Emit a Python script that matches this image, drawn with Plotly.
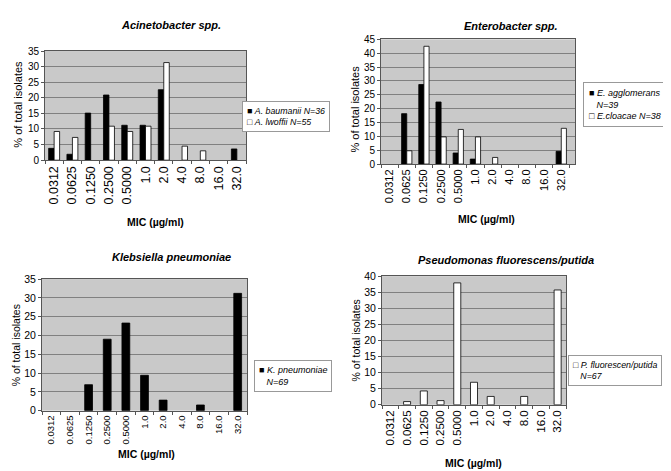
import plotly.graph_objects as go

mic_labels = ["0.0312", "0.0625", "0.1250", "0.2500", "0.5000", "1.0", "2.0", "4.0", "8.0", "16.0", "32.0"]

acineto_baumanii = [3.8, 1.9, 15.1, 20.9, 11.2, 11.2, 22.6, 0, 0, 0, 3.6]
acineto_lwoffii = [9.2, 7.3, 0, 10.9, 9.2, 10.9, 31.3, 4.5, 3.0, 0, 0]

entero_agglomerans = [0, 18.2, 28.7, 22.4, 4.0, 1.8, 0, 0, 0, 0, 4.6]
entero_cloacae = [0, 4.8, 42.5, 9.8, 12.5, 9.8, 2.4, 0, 0, 0, 12.9]

kleb_pneumoniae = [0, 0, 6.9, 19.0, 23.3, 9.4, 2.8, 0, 1.5, 0, 31.2]

pseudo_fluorescens = [0, 1.0, 4.3, 1.3, 37.9, 7.0, 2.6, 0, 2.6, 0, 35.7]

titles = ["Acinetobacter spp.", "Enterobacter spp.", "Klebsiella pneumoniae", "Pseudomonas fluorescens/putida"]

legend_texts = [
    "■ <i>A. baumanii N=36</i><br>□ <i>A. lwoffii N=55</i>",
    "■ <i>E. agglomerans</i><br>\u00a0\u00a0\u00a0<i>N=39</i><br>□ <i>E.cloacae N=38</i>",
    "■ <i>K. pneumoniae</i><br>\u00a0\u00a0\u00a0<i>N=69</i>",
    "□ <i>P. fluorescen/putida</i><br>\u00a0\u00a0\u00a0<i>N=67</i>",
]

W, H = 671, 471
FONT = "Liberation Sans, Arial, sans-serif"


def px_x(p):
    return p / W


def px_y(p):
    return 1 - p / H


def outline(vals):
    return dict(color="black", width=[0.8 if v > 0 else 0 for v in vals])


fig = go.Figure()

fig.add_trace(go.Bar(x=mic_labels, y=acineto_baumanii, name="A. baumanii N=36",
                     marker=dict(color="black", line=outline(acineto_baumanii)), xaxis="x", yaxis="y"))
fig.add_trace(go.Bar(x=mic_labels, y=acineto_lwoffii, name="A. lwoffii N=55",
                     marker=dict(color="white", line=outline(acineto_lwoffii)), xaxis="x", yaxis="y"))
fig.add_trace(go.Bar(x=mic_labels, y=entero_agglomerans, name="E. agglomerans N=39",
                     marker=dict(color="black", line=outline(entero_agglomerans)), xaxis="x2", yaxis="y2"))
fig.add_trace(go.Bar(x=mic_labels, y=entero_cloacae, name="E.cloacae N=38",
                     marker=dict(color="white", line=outline(entero_cloacae)), xaxis="x2", yaxis="y2"))
fig.add_trace(go.Bar(x=mic_labels, y=kleb_pneumoniae, name="K. pneumoniae N=69", width=0.42,
                     marker=dict(color="black", line=outline(kleb_pneumoniae)), xaxis="x3", yaxis="y3"))
fig.add_trace(go.Bar(x=mic_labels, y=pseudo_fluorescens, name="P. fluorescen/putida N=67", width=0.42,
                     marker=dict(color="white", line=outline(pseudo_fluorescens)), xaxis="x4", yaxis="y4"))

# panel geometry in pixels: (left, right, top, bottom, ymax, xrange, xtick font, ytick font)
panels = [
    (37, 238, 38, 150, 35, [-0.5, 10.5], 12.5, 10),
    (373, 567, 26, 154, 45, [-0.5, 10.8], 11, 10),
    (34, 239, 272, 407, 35, [-0.5, 10.5], 9.5, 10.5),
    (374, 558, 269, 401, 40, [-0.5, 10.5], 11.5, 10.5),
]

layout = dict(
    width=W, height=H,
    margin=dict(l=0, r=0, t=0, b=0),
    paper_bgcolor="white",
    plot_bgcolor="#c9c9c9",
    barmode="group",
    bargap=0.4,
    bargroupgap=0,
    font=dict(family=FONT, color="black", size=10),
    showlegend=False,
)

for i, (l, r, t, b, ymax, xr, xfs, yfs) in enumerate(panels):
    sfx = "" if i == 0 else str(i + 1)
    layout["xaxis" + sfx] = dict(
        domain=[px_x(l), px_x(r)], anchor="y" + sfx, type="category",
        range=xr, tickangle=-90, tickfont=dict(size=xfs, family=FONT),
        showline=True, linecolor="#555", linewidth=1, mirror=True,
        ticks="outside", ticklen=3, tickcolor="#555", tickson="boundaries",
        showgrid=False, fixedrange=True,
    )
    layout["yaxis" + sfx] = dict(
        domain=[px_y(b), px_y(t)], anchor="x" + sfx,
        range=[0, ymax], dtick=5, tickfont=dict(size=yfs, family=FONT),
        showline=True, linecolor="#555", linewidth=1, mirror=True,
        ticks="outside", ticklen=3, tickcolor="#555",
        showgrid=True, gridcolor="#808080", gridwidth=1, zeroline=False,
        fixedrange=True,
    )

fig.update_layout(**layout)

# titles
title_pos = [(163, 11), (503, 12), (163, 249), (498, 252)]
for (tx, ty), txt in zip(title_pos, titles):
    fig.add_annotation(x=px_x(tx), y=px_y(ty), xref="paper", yref="paper",
                       text="<b><i>" + txt + "</i></b>", showarrow=False,
                       font=dict(family=FONT, size=11), xanchor="center", yanchor="middle")

# x axis titles
xt_pos = [(147, 213), (478, 210), (138, 452), (465, 461)]
for tx, ty in xt_pos:
    fig.add_annotation(x=px_x(tx), y=px_y(ty), xref="paper", yref="paper",
                       text="<b>MIC (µg/ml)</b>", showarrow=False,
                       font=dict(family=FONT, size=10.5), xanchor="center", yanchor="middle")

# y axis titles
yt_pos = [(10, 93, 11), (347, 97, 11), (8, 340, 10.5), (348, 335, 10.5)]
for tx, ty, fs in yt_pos:
    fig.add_annotation(x=px_x(tx), y=px_y(ty), xref="paper", yref="paper",
                       text="% of total isolates", textangle=-90, showarrow=False,
                       font=dict(family=FONT, size=fs), xanchor="center", yanchor="middle")

# legend boxes
legend_pos = [(234, 89, 8.8, 4), (575, 70, 9, 5), (246, 355, 9, 4), (560, 350, 8.8, 4)]
for (lx, ly, fs, pad), txt in zip(legend_pos, legend_texts):
    fig.add_annotation(x=px_x(lx), y=px_y(ly), xref="paper", yref="paper",
                       text=txt, showarrow=False, align="left",
                       font=dict(family=FONT, size=fs),
                       xanchor="left", yanchor="top",
                       bgcolor="white", bordercolor="#999", borderwidth=1, borderpad=pad)

fig.write_html("out.html")
